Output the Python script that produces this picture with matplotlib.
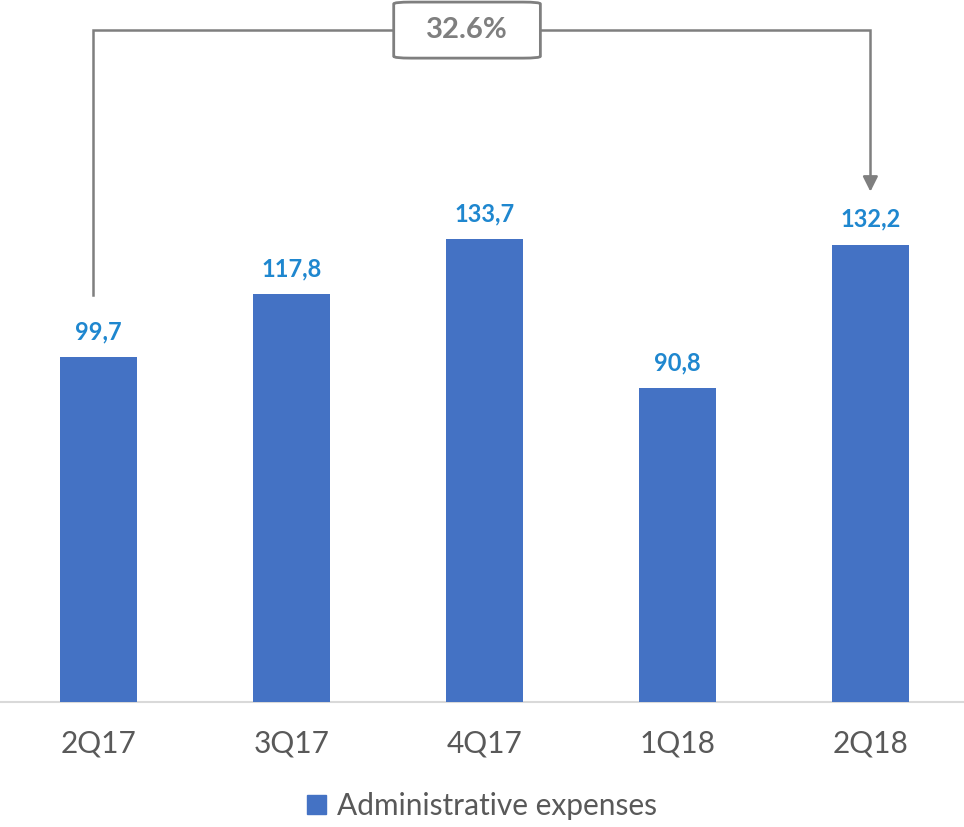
import matplotlib.pyplot as plt
from matplotlib.patches import FancyBboxPatch

quarters = ["2Q17", "3Q17", "4Q17", "1Q18", "2Q18"]
admin_expenses = [99.7, 117.8, 133.7, 90.8, 132.2]
value_labels = ["99,7", "117,8", "133,7", "90,8", "132,2"]
growth_label = "32.6%"

BAR_COLOR = "#4472C4"
LABEL_COLOR = "#1F87CF"
GREY = "#7F7F7F"
TICK_COLOR = "#595959"

plt.rcParams['font.family'] = ['Lato', 'DejaVu Sans']

fig = plt.figure(figsize=(9.64, 8.27), dpi=100)
ax = fig.add_axes([0.0, 125 / 827, 1.0, 702 / 827])

x = list(range(len(quarters)))
ax.bar(x, admin_expenses, width=0.4, color=BAR_COLOR, zorder=3)

for xi, v, lab in zip(x, admin_expenses, value_labels):
    ax.text(xi, v + 4.0, lab, ha='center', va='bottom', fontsize=17,
            fontweight='bold', color=LABEL_COLOR)

ax.set_xlim(-0.51, 4.485)
ax.set_ylim(0, 202.9)
ax.set_xticks(x)
ax.set_xticklabels(quarters, fontsize=21.5, color=TICK_COLOR)
ax.tick_params(axis='x', length=0, pad=20)
ax.set_yticks([])
for s in ['top', 'right', 'left']:
    ax.spines[s].set_visible(False)
ax.spines['bottom'].set_color('#D9D9D9')
ax.spines['bottom'].set_linewidth(1.5)

# bracket from first to last quarter
y_top = 194.2
x0, x1 = -0.03, 4.0
ax.plot([x0, x0, x1, x1], [admin_expenses[0] + 18, y_top, y_top, 150.5],
        color=GREY, lw=1.8, zorder=4, solid_joinstyle='miter')
ax.annotate("", xy=(x1, admin_expenses[-1] + 14.5), xytext=(x1, 151),
            arrowprops=dict(arrowstyle='-|>,head_length=0.9,head_width=0.45',
                            color=GREY, lw=1.8), zorder=4)
bw, bh = 0.76, 16.2
box = FancyBboxPatch((1.91 - bw / 2, y_top - bh / 2), bw, bh,
                     boxstyle="round,pad=0,rounding_size=0.09",
                     mutation_aspect=6, facecolor='white', edgecolor=GREY,
                     lw=2, zorder=5, clip_on=False)
ax.add_patch(box)
ax.text(1.91, y_top, growth_label, ha='center', va='center', fontsize=21,
        fontweight='bold', color=GREY, zorder=6)

handle = plt.Rectangle((0, 0), 1, 1, color=BAR_COLOR)
fig.legend([handle], ["Administrative expenses"], loc='center',
           bbox_to_anchor=(0.5, 1 - 806 / 827), frameon=False, fontsize=21.5,
           handlelength=0.65, handleheight=0.65, handletextpad=0.35,
           labelcolor=TICK_COLOR)

fig.savefig("out.png", dpi=100)
